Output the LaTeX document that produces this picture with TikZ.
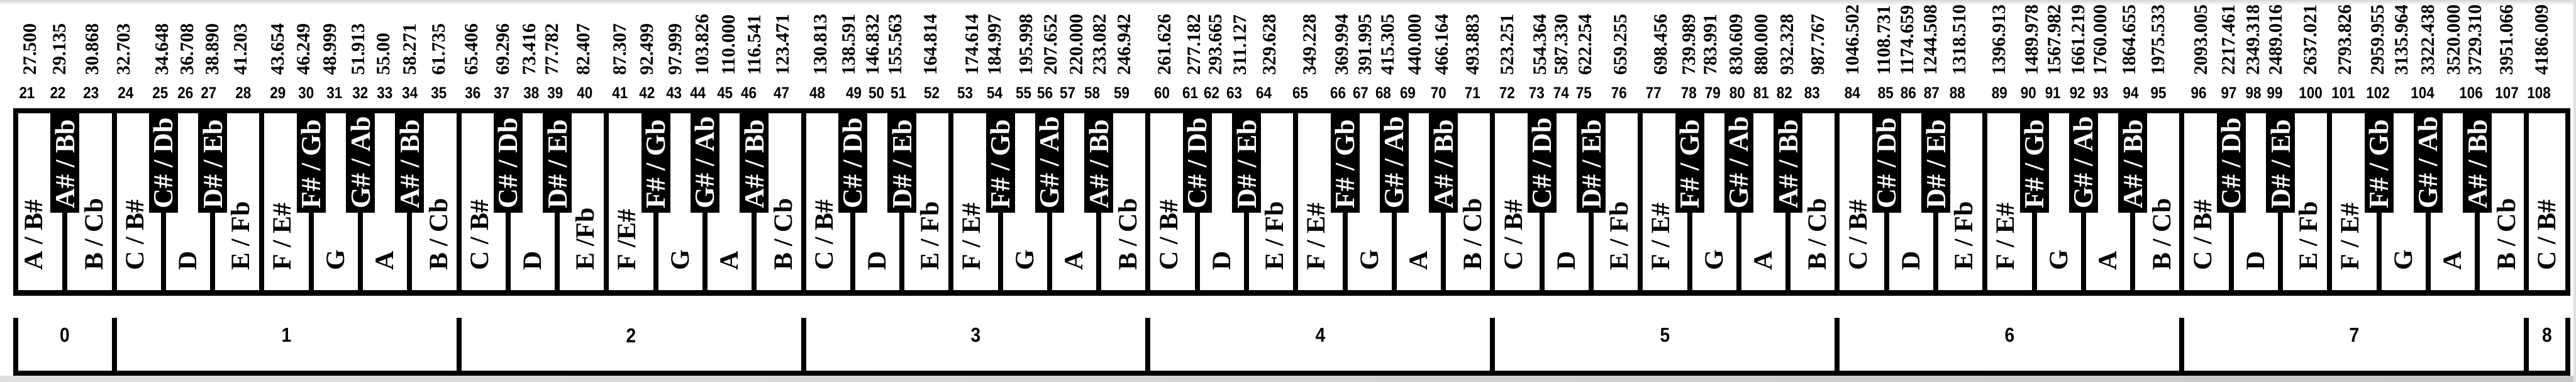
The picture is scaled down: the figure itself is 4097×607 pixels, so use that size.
\documentclass[tikz,border=0pt]{standalone}
\usepackage{fontspec}
\setmainfont{Liberation Serif}
\newfontfamily\numfont{Liberation Sans}[FakeStretch=0.88]
\usetikzlibrary{positioning}

\begin{document}
\begin{tikzpicture}[x=1pt, y=-1pt,
    freq/.style={rotate=90, anchor=west, inner sep=0pt, font=\fontsize{30}{30}\selectfont\bfseries},
    keynum/.style={inner sep=0pt, font=\numfont\bfseries\fontsize{25.5}{26}\selectfont},
    octnum/.style={inner sep=0pt, font=\numfont\bfseries\fontsize{32}{32}\selectfont},
    whitelab/.style={rotate=90, anchor=west, inner sep=0pt, font=\fontsize{42}{42}\selectfont\bfseries},
    blacklab/.style={whitelab, text=white, font=\fontsize{44}{44}\selectfont\bfseries},
    bar/.style={line width=8pt}
  ]
  \useasboundingbox (0,0) rectangle (4097,607);
  \fill[white] (0,0) rectangle (4097,607);

  \fill (21,172) rectangle (4088,470);
  \foreach \i in {0,...,50}
    \fill[white] ({29+78.3*\i},180) rectangle ({21+78.3*(\i+1)},461);
  \fill[white] (4022,180) rectangle (4080,461);

  \node[whitelab] (w0) at (54,430) {A / B\#};
  \node[whitelab] (w1) at (149.5,430) {B / Cb};
  \foreach \o/\sgap in {0/\space, 1/{}, 2/\space, 3/\space, 4/\space, 5/\space, 6/\space} {
    \foreach \j/\lab/\dx in {0/{C / B\#}/-6, 1/D/0, 2/{E /\sgap Fb}/5, 3/{F /\sgap E\#}/-7, 4/G/0, 5/A/0, 6/{B / Cb}/7} {
      \pgfmathtruncatemacro\i{2+7*\o+\j}
      \node[whitelab] (w\i) at ({25+78.3*(\i+0.5)+\dx},430) {\lab};
    }
  }
  \node[whitelab] (w51) at (4051,430) {C / B\#};

  \fill (80.3,176) rectangle (126.3,338);
  \node[blacklab] (k0) at (103.3,332) {A\# / Bb};
  \foreach \o in {0,...,6} {
    \foreach \j/\lab in {1/{C\# / Db}, 2/{D\# / Eb}, 4/{F\# / Gb}, 5/{G\# / Ab}, 6/{A\# / Bb}} {
      \pgfmathsetmacro\bx{25+78.3*(2+7*\o+\j)}
      \fill ({\bx-23},176) rectangle ({\bx+23},338);
      \node[blacklab] (k\o\j) at (\bx,332) {\lab};
    }
  }

  \foreach \x/\k/\f in {48/21/27.500, 95/22/29.135, 147/23/30.868, 197/24/32.703, 258/25/34.648,
      298/26/36.708, 338/27/38.890, 383/28/41.203, 442/29/43.654, 483/30/46.249, 525/31/48.999,
      570/32/51.913, 610/33/55.00, 652/34/58.271, 698/35/61.735, 750/36/65.406, 800/37/69.296,
      842/38/73.416, 878/39/77.782, 928/40/82.407, 986/41/87.307, 1029/42/92.499, 1074/43/97.999,
      1117/44/103.826, 1159/45/110.000, 1200/46/116.541, 1245/47/123.471, 1305/48/130.813,
      1350/49/138.591, 1388/50/146.832, 1424/51/155.563, 1480/52/164.814, 1546/53/174.614,
      1582/54/184.997, 1632/55/195.998, 1671/56/207.652, 1712/57/220.000, 1749/58/233.082,
      1788/59/246.942, 1852/60/261.626, 1899/61/277.182, 1933/62/293.665, 1972/63/311.127,
      2019/64/329.628, 2083/65/349.228, 2134/66/369.994, 2171/67/391.995, 2207/68/415.305,
      2250/69/440.000, 2293/70/466.164, 2342/71/493.883, 2397/72/523.251, 2449/73/554.364,
      2483/74/587.330, 2521/75/622.254, 2577/76/659.255, 2641/77/698.456, 2686/78/739.989,
      2720/79/783.991, 2761/80/830.609, 2801/81/880.000, 2842/82/932.328, 2891/83/987.767,
      2946/84/1046.502, 2996/85/1108.731, 3033/86/1174.659, 3070/87/1244.508, 3116/88/1318.510,
      3180/89/1396.913, 3231/90/1489.978, 3267/91/1567.982, 3306/92/1661.219, 3341/93/1760.000,
      3387/94/1864.655, 3433/95/1975.533, 3501/96/2093.005, 3545/97/2217.461, 3584/98/2349.318,
      3620/99/2489.016, 3675/100/2637.021, 3730/101/2793.826, 3782/102/2959.955, 3820/103/3135.964,
      3862/104/3322.438, 3903/105/3520.000, 3937/106/3729.310, 3987/107/3951.066, 4043/108/4186.009}
    \node[freq] (f\k) at (\x,120) {\f};

  \foreach \x/\k in {43/21, 92/22, 145/23, 200/24, 255/25, 295/26, 332/27, 387/28, 442/29, 487/30,
      532/31, 573/32, 612/33, 652/34, 698/35, 752/36, 798/37, 845/38, 883/39, 930/40, 986/41,
      1029/42, 1072/43, 1110/44, 1153/45, 1191/46, 1243/47, 1300/48, 1358/49, 1394/50, 1429/51,
      1482/52, 1535/53, 1582/54, 1628/55, 1662/56, 1698/57, 1737/58, 1784/59, 1848/60, 1893/61,
      1927/62, 1963/63, 2010/64, 2068/65, 2128/66, 2164/67, 2200/68, 2239/69, 2288/70, 2342/71,
      2397/72, 2444/73, 2483/74, 2519/75, 2575/76, 2630/77, 2686/78, 2724/79, 2763/80, 2801/81,
      2838/82, 2882/83, 2946/84, 2999/85, 3035/86, 3072/87, 3113/88, 3180/89, 3226/90, 3265/91,
      3304/92, 3341/93, 3389/94, 3433/95, 3497/96, 3545/97, 3584/98, 3618/99, 3675/100, 3727/101,
      3782/102, 3853/104, 3930/106, 3987/107, 4038/108}
    \node[keynum] (n\k) at (\x,148) {\k};

  \draw[bar] (21,593) -- (4088,593);
  \foreach \x in {25,181.6,729.7,1277.8,1825.9,2374,2922.1,3470.2,4018.3,4084}
    \draw[bar] (\x,505) -- (\x,593);
  \foreach \o/\x in {0/103, 1/455.6, 2/1003.7, 3/1551.8, 4/2100, 5/2648.1, 6/3196.2, 7/3744.3, 8/4051}
    \node[octnum] (o\o) at (\x,533) {\o};

  \shade[top color=gray!30, bottom color=white] (0,0) rectangle (4097,8);
  \shade[left color=gray!25, right color=gray!45] (0,598) rectangle (4097,607);
  \fill[gray!25] (4093,0) rectangle (4097,607);
\end{tikzpicture}
\end{document}
